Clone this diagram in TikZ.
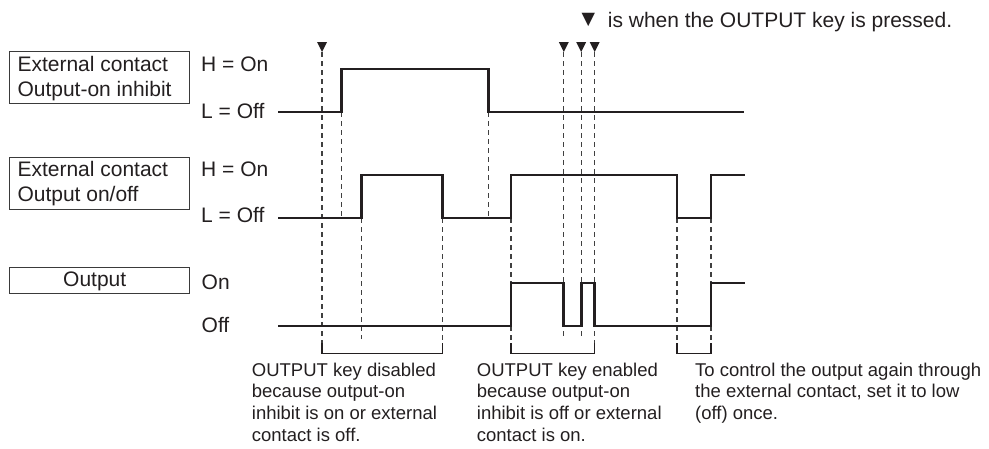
\documentclass[tikz,border=0pt]{standalone}
\usepackage{fontspec}
\setmainfont{Liberation Sans}
\newfontfamily\symfont{DejaVu Sans}
\definecolor{ink}{HTML}{231F20}
\definecolor{guidegray}{HTML}{404040}
\definecolor{boxgray}{HTML}{3A3A3A}
\begin{document}
\begin{tikzpicture}[x=1pt,y=-1pt,
  sig/.style={line width=2.7pt, draw=ink, line join=miter},
  guide/.style={line width=1.2pt, draw=guidegray, dash pattern=on 5pt off 4pt},
  brk/.style={line width=1.2pt, draw=ink},
  lbl/.style={font=\fontsize{21}{26}\selectfont, inner sep=0pt, anchor=base west, text=ink},
  boxtxt/.style={font=\fontsize{21}{25.5}\selectfont, inner sep=0pt, anchor=base west, text=ink, align=left},
  note/.style={font=\fontsize{18.5}{21.8}\selectfont, inner sep=0pt, anchor=base west, text=ink, align=left},
  sigbox/.style={draw=boxgray, line width=1.1pt, inner sep=0pt, anchor=north west, minimum width=179.4pt},
  keytri/.style={fill=ink}
]
\useasboundingbox (0,0) rectangle (989,448);

% label boxes
\node[sigbox, minimum height=52.6pt] (box1) at (9.3,50.7) {};
\node[sigbox, minimum height=52.3pt] (box2) at (9.3,156.7) {};
\node[sigbox, minimum height=26.6pt] (box3) at (9.3,266.7) {};
% multi-line nodes: base anchor is the baseline of the last line
\node[boxtxt] (t1) at (17.3,96.7) {External contact\\Output-on inhibit};
\node[boxtxt] (t2) at (17.3,201.9) {External contact\\Output on/off};
\node[boxtxt] (t3) at (63,286.7) {Output};

% level labels
\node[lbl] (h1) at (201,71) {H = On};
\node[lbl] (l1) at (201,118) {L = Off};
\node[lbl] (h2) at (201,176.7) {H = On};
\node[lbl] (l2) at (201,222.7) {L = Off};
\node[lbl] (h3) at (201.5,289) {On};
\node[lbl] (l3) at (201.5,332) {Off};

% legend
\node[lbl, font=\symfont\fontsize{17.5}{20}\selectfont] (legtri) at (581.5,24) {▼};
\node[lbl] (leg) at (607.7,27) {is when the OUTPUT key is pressed.};

% guide lines
\draw[guide] (322,52) -- (322,353);
\draw[guide] (341.7,112) -- (341.7,218);
\draw[guide] (361.7,218) -- (361.7,339);
\draw[guide] (488.5,112) -- (488.5,218);
\draw[guide] (442.5,218) -- (442.5,353);
\draw[guide] (511,218) -- (511,353);
\draw[guide] (563.8,52) -- (563.8,339);
\draw[guide] (581.2,52) -- (581.2,339);
\draw[guide] (594.7,52) -- (594.7,353);
\draw[guide] (677,218) -- (677,353);
\draw[guide] (711,218) -- (711,353);

% key press markers
\foreach \xx in {322, 563.8, 581.2, 594.7}{
  \fill[keytri] (\xx-5,42) -- (\xx+5,42) -- (\xx,52) -- cycle;
}

% signals
\draw[sig] (278,112) -- (341.7,112) -- (341.7,69) -- (488.5,69) -- (488.5,112) -- (744,112);
\draw[sig] (278,218) -- (361.7,218) -- (361.7,175) -- (442.5,175) -- (442.5,218) -- (511,218) -- (511,175) -- (677,175) -- (677,218) -- (711,218) -- (711,175) -- (745,175);
\draw[sig] (278,326) -- (511,326) -- (511,283) -- (563.8,283) -- (563.8,326) -- (581.2,326) -- (581.2,283) -- (594.7,283) -- (594.7,326) -- (711,326) -- (711,283) -- (745,283);

% brackets
\draw[brk] (322,343) -- (322,353.5) -- (442.5,353.5) -- (442.5,343);
\draw[brk] (511,343) -- (511,353.5) -- (594.7,353.5) -- (594.7,343);
\draw[brk] (677,343) -- (677,353.5) -- (711,353.5) -- (711,343);

% notes (anchored at the last line's baseline)
\node[note] (n1) at (251.7,441.4) {OUTPUT key disabled\\because output-on\\inhibit is on or external\\contact is off.};
\node[note] (n2) at (476.7,441.4) {OUTPUT key enabled\\because output-on\\inhibit is off or external\\contact is on.};
\node[note] (n3) at (695,419.6) {To control the output again through\\the external contact, set it to low\\(off) once.};
\end{tikzpicture}
\end{document}
